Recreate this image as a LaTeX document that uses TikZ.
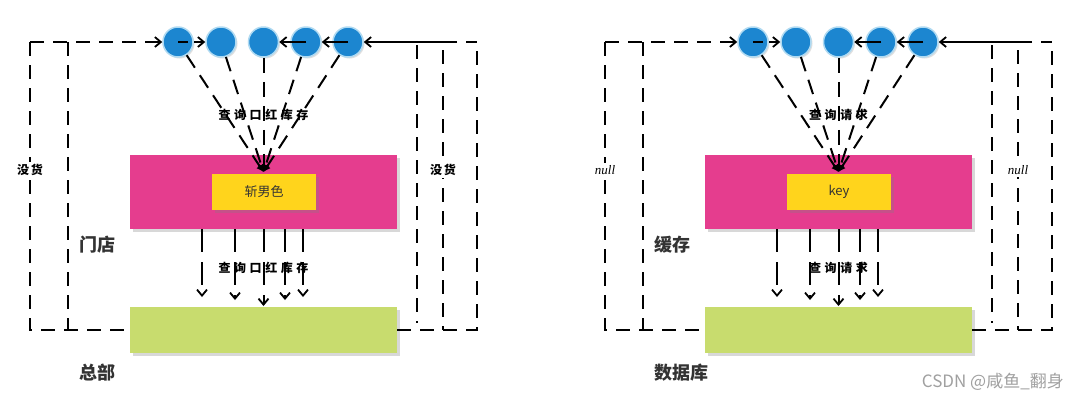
\documentclass[tikz,border=0pt]{standalone}
\usepackage{fontspec}
\setmainfont{Liberation Sans}
\newfontfamily\cjk{Noto Sans CJK SC}
\newfontfamily\hand[LetterSpace=30]{Noto Sans CJK SC}
\newfontfamily\nullfnt{Liberation Serif}
\usetikzlibrary{arrows.meta,shadows}
\definecolor{cblue}{RGB}{28,134,208}
\definecolor{cring}{RGB}{175,218,242}
\definecolor{cpink}{RGB}{229,61,142}
\definecolor{cyellow}{RGB}{255,212,28}
\definecolor{cgreen}{RGB}{200,220,110}
\definecolor{ctext}{RGB}{51,51,51}
\definecolor{cmark}{RGB}{160,160,160}
\tikzset{
  barb/.tip={Straight Barb[length=6pt,width=10pt,line width=1.8pt]},
  frame/.style={line width=2pt, dash pattern=on 14pt off 9pt},
  ray/.style={line width=2pt, dash pattern=on 15pt off 9pt, -{Latex[length=7pt,width=8pt]}},
  downarr/.style={line width=2pt, dash pattern=on 23pt off 10pt, -barb},
  flow/.style={line width=1.8pt, -barb},
  dot/.style={circle, fill=cblue, draw=cring, line width=1.5pt, minimum size=30pt, inner sep=0pt,
    drop shadow={opacity=.25, shadow xshift=1.5pt, shadow yshift=-1.5pt}},
  box/.style={inner sep=0pt, drop shadow={opacity=.3, shadow xshift=3pt, shadow yshift=-3pt}},
  handlbl/.style={font=\hand\bfseries\fontsize{12}{12}\selectfont, text=black, inner sep=1pt},
  sidelbl/.style={fill=white, inner sep=2pt, text=black},
  title/.style={font=\cjk\bfseries\fontsize{18}{18}\selectfont, text=ctext, anchor=west, inner sep=0pt},
}
\newcommand\drawpanel[7]{%
\begin{scope}[xshift=#1]
  \node[box, fill=cpink, minimum width=267pt, minimum height=74pt] (#2pink) at (263.5,192) {};
  \node[box, fill=cyellow, minimum width=104pt, minimum height=36pt, text=ctext,
        font=\cjk\fontsize{13}{13}\selectfont] (#2key) at (264,192) {#4};
  \node[box, fill=cgreen, minimum width=267pt, minimum height=46pt] (#2base) at (263.5,330) {};
  \foreach \i/\x in {1/178,2/221,3/263.5,4/306,5/348}
    \node[dot] (#2c\i) at (\x,42) {};
  % frame corners
  \coordinate (#2tl) at (30,42);
  \coordinate (#2bl) at (30,330);
  \coordinate (#2itl) at (68,42);
  \coordinate (#2ibl) at (68,330);
  \coordinate (#2tr) at (477,42);
  \coordinate (#2br) at (477,330);
  \coordinate (#2ts) at (457,42);
  \coordinate (#2ra) at (417,45);
  \coordinate (#2rb) at (417,323);
  \coordinate (#2sa) at (443,50);
  \coordinate (#2sb) at (443,330);
  \coordinate (#2hub) at (263.5,172);
  \draw[frame] (#2tl) -- (#2bl) -- (#2base.west);
  \draw[frame] (#2base.east) -- (#2br) -- (#2tr) -- ++(-11,0);
  \draw[frame] (#2itl) -- (#2ibl);
  \draw[frame] (#2ra) -- (#2rb);
  \draw[frame] (#2sa) -- (#2sb);
  % top flow
  \draw[frame, flow] (#2tl) -- (#2c1.west);
  \draw[frame, flow, dash pattern=on 10pt off 6pt] (#2c1.center) -- (#2c2.west);
  \draw[flow] (#2ts) -- (#2c5.east);
  \draw[flow] (#2c5.center) -- (#2c4.east);
  \draw[flow] (#2c4.center) -- (#2c3.east);
  % rays
  \foreach \i in {1,...,5}
    \draw[ray] (#2c\i) -- (#2hub);
  \node[handlbl] (#2qa) at (263.5,115) {#3};
  % down arrows
  \foreach \i/\x/\y in {1/202/297,2/235/300,3/263.5/306,4/285/300,5/303/297}{
    \coordinate (#2e\i) at (\x,\y);
    \draw[downarr] (#2pink.south -| #2e\i) -- (#2e\i);
  }
  \node[handlbl] (#2qb) at (263.5,268) {#3};
  % labels
  \node[title] (#2group) at (79,245) {#5};
  \node[title] (#2root) at (79,373) {#6};
  \node[sidelbl] (#2sl) at (30,170) {#7};
  \node[sidelbl] (#2sr) at (443,170) {#7};
\end{scope}}
\begin{document}
\begin{tikzpicture}[x=1pt,y=-1pt]
\useasboundingbox[fill=white] (0,0) rectangle (1080,400);
\drawpanel{0pt}{L}{查询口红库存}{斩男色}{门店}{总部}{\cjk\bfseries\fontsize{12}{12}\selectfont 没\,货}
\drawpanel{575pt}{R}{查询请求}{\fontsize{13}{13}\selectfont key}{缓存}{数据库}{\nullfnt\itshape\fontsize{13}{13}\selectfont null}
\node[font=\cjk\fontsize{17}{17}\selectfont, text=cmark, anchor=east, inner sep=0pt] (mark) at (1064,382) {CSDN @咸鱼\_翻身};
\end{tikzpicture}
\end{document}
